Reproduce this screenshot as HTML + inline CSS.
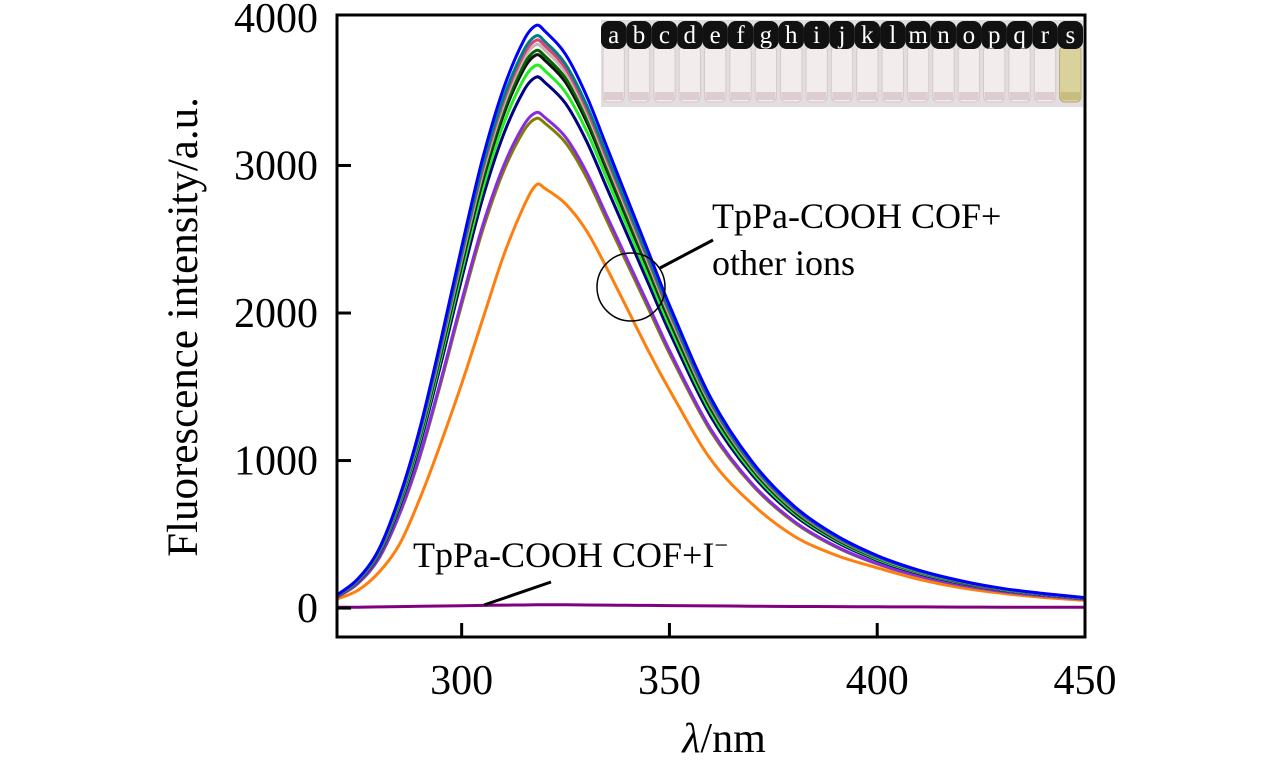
<!DOCTYPE html>
<html><head><meta charset="utf-8">
<style>
html,body{margin:0;padding:0;background:#fff;}
svg{display:block;font-family:"Liberation Serif",serif;}
</style></head>
<body>
<svg id="chart" width="1276" height="762" viewBox="0 0 1276 762" xmlns="http://www.w3.org/2000/svg">
<defs><clipPath id="plotclip"><rect x="337" y="15" width="748" height="622"/></clipPath></defs>
<g id="curves" clip-path="url(#plotclip)"></g>
<rect x="337" y="15" width="748" height="622" fill="none" stroke="#000" stroke-width="3"/>
<g id="axes"></g>
<text x="0" y="0" transform="translate(197,327) rotate(-90)" text-anchor="middle" font-size="43">Fluorescence intensity/a.u.</text>
<text x="724" y="752" text-anchor="middle" font-size="42"><tspan font-style="italic">λ</tspan>/nm</text>
<g id="inset"></g>
<circle cx="631" cy="287" r="34" fill="none" stroke="#000" stroke-width="1.5"/>
<line x1="660" y1="268" x2="713" y2="240" stroke="#000" stroke-width="3"/>
<text x="712" y="228" font-size="36">TpPa-COOH COF+</text>
<text x="712" y="275" font-size="36">other ions</text>
<line x1="484" y1="605" x2="551" y2="582" stroke="#000" stroke-width="3"/>
<text x="413" y="567" font-size="36">TpPa-COOH COF+I<tspan dy="-14" font-size="24">−</tspan></text>
</svg>
<script>
const wavelengths = [270,275,280,285,290,295,300,305,310,315,318,320,325,330,335,340,345,350,360,370,380,390,400,410,420,430,440,450];
const blueVals   = [87,198,395,751,1225,1817,2449,3042,3516,3851,3950,3911,3753,3476,3121,2765,2410,2054,1422,988,691,494,356,257,186,134,99,71];
const tealVals   = [85,194,388,737,1203,1785,2406,2988,3453,3783,3880,3841,3686,3414,3065,2716,2367,2018,1397,970,679,485,349,252,182,132,97,70];
const pinkVals   = [85,193,385,732,1194,1771,2387,2965,3427,3754,3850,3812,3658,3388,3042,2695,2349,2002,1386,963,674,481,347,250,181,131,96,69];
const grayVals   = [84,191,382,726,1184,1757,2368,2941,3400,3725,3820,3782,3629,3362,3018,2674,2330,1986,1375,955,669,478,344,248,180,130,96,69];
const dgreenVals = [83,189,378,718,1172,1739,2344,2911,3364,3686,3780,3742,3591,3326,2986,2646,2306,1966,1361,945,662,473,340,246,178,129,95,68];
const blackVals  = [83,188,375,713,1163,1725,2325,2888,3338,3656,3750,3713,3563,3300,2963,2625,2288,1950,1350,938,656,469,338,244,176,128,94,68];
const limeVals   = [81,184,368,699,1141,1693,2282,2834,3275,3588,3680,3643,3496,3238,2907,2576,2245,1914,1325,920,644,460,331,239,173,125,92,66];
const navyVals   = [79,180,360,684,1116,1656,2232,2772,3204,3510,3600,3564,3420,3168,2844,2520,2196,1872,1296,900,630,450,324,234,169,122,90,65];
const violetVals = [74,168,336,638,1042,1546,2083,2587,2990,3276,3360,3326,3192,2957,2654,2352,2050,1747,1210,840,588,420,302,218,158,114,84,60];
const oliveVals  = [73,166,332,631,1029,1527,2058,2556,2955,3237,3320,3287,3154,2922,2623,2324,2025,1726,1195,830,581,415,299,216,156,113,83,60];
const orangeVals = [60,120,240,430,746,1119,1521,1952,2382,2727,2870,2845,2740,2560,2300,2020,1740,1480,1005,703,488,359,273,195,138,100,72,52];
const iodideVals = [5,6,8,10,12,14,16,18,20,21,22,22,22,21,20,19,18,17,15,13,11,10,9,8,7,6,6,5];
const seriesNames = ["orange","olive","violet","navy","lime","black","dgreen","gray","pink","teal","blue","iodide"];
const seriesColors = ["#ff7f0e","#808000","#8a2be2","#000080","#22ee22","#111111","#006400","#c8b4b4","#e0407a","#008080","#0000ff","#800080"];
const seriesValues = [orangeVals,oliveVals,violetVals,navyVals,limeVals,blackVals,dgreenVals,grayVals,pinkVals,tealVals,blueVals,iodideVals];
const xTicks = [300,350,400,450];
const yTicks = [0,1000,2000,3000,4000];
const vialLetters = ["a","b","c","d","e","f","g","h","i","j","k","l","m","n","o","p","q","r","s"];

const NS = "http://www.w3.org/2000/svg";
const X0=337, X1=1085, Y0=637, Y1=15;
const xMin=270, xMax=450, yMin=-196, yMax=4020;
function sx(v){return X0+(v-xMin)/(xMax-xMin)*(X1-X0);}
function sy(v){return Y0-(v-yMin)/(yMax-yMin)*(Y0-Y1);}
function mk(tag, attrs, parent){const e=document.createElementNS(NS,tag);for(const k in attrs)e.setAttribute(k,attrs[k]);parent.appendChild(e);return e;}

const curves=document.getElementById('curves');
seriesValues.forEach((vals,si)=>{
  const pts=wavelengths.map((w,i)=>[sx(w),sy(vals[i])]);
  const n=pts.length;
  const m=pts.map((p,i)=>{
    const a=pts[Math.max(0,i-1)], b=pts[Math.min(n-1,i+1)];
    return (b[1]-a[1])/(b[0]-a[0]);
  });
  let d="M"+pts[0][0].toFixed(1)+","+pts[0][1].toFixed(1);
  for(let i=0;i<n-1;i++){
    const p1=pts[i],p2=pts[i+1],dx=(p2[0]-p1[0])/3;
    d+=" C"+(p1[0]+dx).toFixed(1)+","+(p1[1]+m[i]*dx).toFixed(1)+" "+(p2[0]-dx).toFixed(1)+","+(p2[1]-m[i+1]*dx).toFixed(1)+" "+p2[0].toFixed(1)+","+p2[1].toFixed(1);
  }
  const p=mk('path',{d:d,fill:'none',stroke:seriesColors[si],'stroke-width':3,'stroke-linejoin':'round'},curves);
  
  
});

const axes=document.getElementById('axes');
xTicks.forEach(t=>{
  const x=sx(t);
  if(t<xMax){const l=mk('line',{x1:x,y1:Y0,x2:x,y2:Y0-14,stroke:'#000','stroke-width':3},axes);
  
  }
  const tx=mk('text',{x:x,y:694,'text-anchor':'middle','font-size':42},axes);
  tx.textContent=t;
  
  
});
yTicks.forEach(t=>{
  const y=sy(t);
  if(t<4000){const l=mk('line',{x1:X0,y1:y,x2:X0+14,y2:y,stroke:'#000','stroke-width':3},axes);
  
  }
  const tx=mk('text',{x:318,y:y+14,'text-anchor':'end','font-size':42},axes);
  tx.textContent=t;
  
  
});

const inset=document.getElementById('inset');
mk('rect',{x:601,y:20,width:482,height:87,fill:'#e2dedf'},inset);
const vw=482/vialLetters.length;
vialLetters.forEach((L,i)=>{
  const cx=601+vw*i+vw/2;
  const last=i===vialLetters.length-1;
  const body=mk('rect',{x:cx-vw/2+2,y:46,width:vw-4,height:56,rx:5,fill:last?'#d9d29c':'#f3eced',stroke:last?'#b8ac70':'#d6c8cb','stroke-width':1},inset);
  
  
  mk('rect',{x:cx-vw/2+3,y:92,width:vw-6,height:8,fill:last?'#c8bc80':'#decdd0'},inset);
  const cap=mk('rect',{x:cx-vw/2,y:21,width:vw,height:28,rx:8,fill:'#111'},inset);
  
  
  const t=mk('text',{x:cx,y:43,'text-anchor':'middle','font-size':25,fill:'#fff'},inset);
  t.textContent=L;
  
  
});
</script>
</body></html>
